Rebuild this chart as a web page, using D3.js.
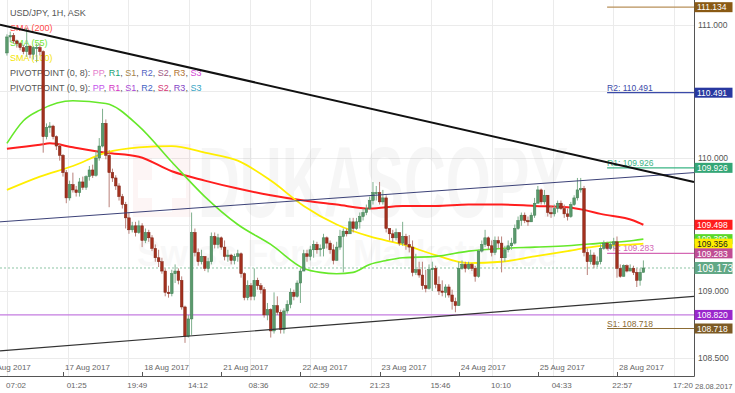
<!DOCTYPE html>
<html>
<head>
<meta charset="utf-8">
<script src="https://cdn.jsdelivr.net/npm/d3@7"></script>
<style>
  body { margin: 0; background: #fff; }
  #chart { width: 735px; height: 393px; }
  text { font-family: "Liberation Sans", Arial, sans-serif; }
</style>
</head>
<body>
<div id="chart"></div>
<script>
// hourly candles, index 0 = 16 Aug 2017 07:00 (trading hours, weekend skipped)
var firstOpen = 110.79;
var closes = [110.91,110.92,110.88,110.86,110.83,110.80,110.84,110.78,110.83,110.83,
  110.80,110.16,110.23,110.24,110.16,110.09,110.02,109.89,109.70,109.80,
  109.76,109.74,109.82,109.78,109.86,109.91,109.87,110.00,110.09,110.26,
  110.02,109.89,109.85,109.79,109.71,109.65,109.55,109.46,109.49,109.44,
  109.49,109.38,109.44,109.40,109.32,109.25,109.22,109.15,108.99,108.98,
  109.13,109.15,109.08,108.88,108.66,108.79,109.44,109.29,109.22,109.26,
  109.17,109.22,109.41,109.35,109.40,109.33,109.26,109.27,109.23,109.26,
  109.28,109.13,108.95,109.04,108.96,109.08,109.04,109.01,108.82,108.86,
  108.70,108.89,108.84,108.71,108.85,108.90,108.99,108.96,109.06,109.15,
  109.28,109.26,109.31,109.35,109.31,109.32,109.40,109.36,109.31,109.23,
  109.33,109.41,109.45,109.43,109.52,109.47,109.52,109.56,109.59,109.62,
  109.68,109.74,109.74,109.67,109.70,109.47,109.43,109.40,109.44,109.36,
  109.41,109.35,109.33,109.14,109.16,109.12,109.04,109.02,109.16,109.17,
  109.05,109.00,108.99,109.03,108.97,108.92,108.89,109.17,109.20,109.17,
  109.20,109.17,109.11,109.30,109.35,109.40,109.34,109.29,109.38,109.36,
  109.25,109.31,109.34,109.36,109.47,109.53,109.57,109.53,109.52,109.57,
  109.66,109.76,109.67,109.72,109.59,109.58,109.62,109.66,109.62,109.58,
  109.56,109.65,109.70,109.76,109.77,109.29,109.22,109.27,109.20,109.22,
  109.32,109.36,109.32,109.35,109.37,109.17,109.11,109.19,109.15,109.17,
  109.14,109.08,109.14,109.173];
var highs = [110.93,110.95,110.94,110.89,110.87,110.85,110.98,110.85,110.84,110.86,
  110.86,110.81,110.26,110.27,110.25,110.17,110.11,110.03,109.91,109.83,
  109.89,109.79,109.85,109.86,109.87,109.94,109.95,110.05,110.15,110.37,
  110.29,110.06,109.92,109.87,109.81,109.73,109.67,109.59,109.52,109.52,
  109.53,109.51,109.47,109.46,109.42,109.35,109.31,109.25,109.17,109.04,
  109.16,109.20,109.17,109.11,108.89,108.82,109.59,109.47,109.32,109.31,
  109.26,109.25,109.44,109.44,109.43,109.41,109.38,109.31,109.28,109.28,
  109.31,109.29,109.14,109.08,109.06,109.17,109.10,109.06,109.03,108.91,
  108.87,108.99,108.96,108.86,108.87,108.93,109.02,109.01,109.08,109.17,
  109.31,109.31,109.34,109.38,109.37,109.35,109.43,109.41,109.38,109.35,
  109.37,109.46,109.47,109.47,109.55,109.55,109.55,109.59,109.62,109.65,
  109.71,109.82,109.79,109.82,109.76,109.72,109.47,109.46,109.47,109.44,
  109.52,109.43,109.42,109.38,109.28,109.22,109.22,109.16,109.20,109.22,
  109.19,109.11,109.08,109.05,109.05,109.01,108.95,109.22,109.23,109.22,
  109.22,109.21,109.19,109.31,109.38,109.46,109.41,109.38,109.41,109.41,
  109.41,109.34,109.38,109.40,109.50,109.56,109.59,109.59,109.56,109.59,
  109.70,109.79,109.77,109.76,109.72,109.64,109.65,109.68,109.68,109.65,
  109.62,109.67,109.72,109.85,109.85,109.79,109.32,109.31,109.29,109.26,
  109.35,109.38,109.37,109.37,109.40,109.41,109.20,109.20,109.20,109.20,
  109.19,109.17,109.17,109.23];
var lows = [110.77,110.87,110.86,110.83,110.81,110.78,110.76,110.75,110.74,110.72,
  110.77,110.04,110.14,110.19,110.14,110.06,109.98,109.86,109.66,109.68,
  109.74,109.71,109.71,109.76,109.76,109.83,109.85,109.86,109.98,110.08,
  109.99,109.63,109.82,109.76,109.68,109.62,109.47,109.43,109.44,109.41,
  109.43,109.33,109.36,109.37,109.30,109.22,109.18,109.13,108.96,108.95,
  108.96,109.06,109.05,108.86,108.61,108.65,108.67,109.26,109.19,109.20,
  109.15,109.14,109.20,109.32,109.32,109.31,109.23,109.22,109.20,109.20,
  109.22,109.10,108.93,108.93,108.93,108.93,109.01,108.98,108.80,108.78,
  108.65,108.68,108.82,108.68,108.68,108.83,108.87,108.93,108.95,108.91,
  109.16,109.22,109.23,109.25,109.28,109.26,109.26,109.32,109.28,109.20,
  109.23,109.31,109.14,109.41,109.43,109.44,109.46,109.47,109.53,109.57,
  109.61,109.65,109.68,109.65,109.65,109.44,109.38,109.37,109.38,109.34,
  109.34,109.31,109.29,109.11,109.12,109.10,109.01,108.99,109.01,109.00,
  109.02,108.97,108.96,108.95,108.95,108.86,108.84,108.90,109.16,109.14,
  109.16,109.15,109.07,109.10,109.29,109.33,109.31,109.26,109.27,109.32,
  109.14,109.22,109.29,109.31,109.35,109.46,109.49,109.51,109.49,109.52,
  109.55,109.67,109.65,109.65,109.56,109.55,109.56,109.59,109.61,109.55,
  109.53,109.55,109.64,109.68,109.74,109.26,109.12,109.20,109.17,109.18,
  109.20,109.31,109.31,109.31,109.32,109.10,109.10,109.12,109.14,109.15,
  109.12,109.03,109.04,109.14];

// moving averages, read at some candle positions
var sma200Idx = [0, 10, 13, 20, 30, 40, 50, 60, 70, 80, 90, 100, 110, 120, 130, 140, 150, 160, 170, 175, 180, 190, 193];
var sma200Val = [110.07, 110.10, 110.11, 110.08, 110.04, 110.01, 109.90, 109.83, 109.77, 109.72, 109.68, 109.65, 109.62, 109.64, 109.64, 109.65, 109.65, 109.64, 109.63, 109.61, 109.58, 109.53, 109.498];
var sma55Idx = [0, 5, 10, 20, 30, 40, 50, 60, 70, 80, 90, 95, 100, 105, 110, 115, 120, 130, 140, 150, 160, 170, 180, 190, 193];
var sma55Val = [110.11, 110.28, 110.36, 110.43, 110.41, 110.24, 109.97, 109.71, 109.50, 109.35, 109.17, 109.14, 109.13, 109.14, 109.20, 109.23, 109.25, 109.26, 109.30, 109.32, 109.33, 109.34, 109.36, 109.38, 109.39];
var sma100Idx = [0, 10, 20, 30, 40, 50, 60, 70, 80, 90, 100, 110, 120, 130, 140, 150, 160, 170, 180, 190, 193];
var sma100Val = [109.76, 109.86, 109.94, 110.04, 110.08, 110.09, 110.04, 109.98, 109.83, 109.64, 109.50, 109.41, 109.35, 109.27, 109.21, 109.22, 109.26, 109.30, 109.34, 109.35, 109.356];

// trend lines [startIdx, startPrice, endIdx, endPrice]
var upperTrend = [-2.1, 111.003, 208.35, 109.82];
var channelTrend = [-2.1, 109.52, 208.35, 109.89];
var lowerTrend = [-2.1, 108.55, 208.35, 108.96];

// pivot levels
var pivotNames = ["R3", "R2", "R1", "PP", "S1"];
var pivotValues = [111.134, 110.491, 109.926, 109.283, 108.718];
var pivotColors = ["#b8905a", "#3a4aa8", "#3ab484", "#d468b4", "#8c6c34"];
var pivotStart = 182;

var purpleLevel = 108.820;
var lastPrice = 109.173;

// right side value boxes
var boxValues = [111.134, 110.491, 109.926, 109.498, 109.39, 109.356, 109.283, 109.173, 108.820, 108.718];
var boxColors = ["#8a5a14", "#2838a0", "#34a676", "#ff1c1c", "#5ad82a", "#ffee00", "#c04c94", "#62a886", "#9a26cc", "#7c5a24"];
var boxTextColors = ["#fff", "#fff", "#fff", "#fff", "#fff", "#222", "#fff", "#fff", "#fff", "#fff"];

var priceTicks = [108.5, 109.0, 109.5, 110.0, 110.5, 111.0];
var dateTickIdx = [-7, 17, 41, 65, 89, 113, 137, 161, 185];
var dateLabels = ["16 Aug 2017", "17 Aug 2017", "18 Aug 2017", "21 Aug 2017", "22 Aug 2017", "23 Aug 2017", "24 Aug 2017", "25 Aug 2017", "28 Aug 2017"];
var timeTickIdx = [0.03, 18.42, 36.8, 55.18, 73.57, 91.95, 110.33, 128.72, 147.1, 165.48, 183.87, 202.25];
var timeLabels = ["07:02", "01:25", "19:49", "14:12", "08:36", "02:59", "21:23", "15:46", "10:10", "04:33", "22:57", "17:20"];

var pivot8Names = ["PP", "R1", "S1", "R2", "S2", "R3", "S3"];
var pivot8Colors = ["#e47ccc", "#22a274", "#a4844a", "#5464c4", "#a05a84", "#b07434", "#d444d4"];
var pivot9Colors = ["#c454ec", "#d434c4", "#a848d4", "#4464c4", "#d43474", "#8444c4", "#34a4c4"];

function makeChart() {
  var width = 735, height = 393;
  var plotRight = 694, plotBottom = 376;

  var svg = d3.select("#chart").append("svg")
    .attr("width", width)
    .attr("height", height);

  svg.append("rect").attr("width", width).attr("height", height).attr("fill", "white");

  var x = d3.scaleLinear().domain([-2.1, 208.35]).range([0, plotRight]);
  var y = d3.scaleLinear().domain([108.5, 111]).range([357.5, 25]);

  var plot = svg.append("g");

  // grid
  plot.selectAll(".hgrid").data(priceTicks).enter().append("line")
    .attr("x1", 0).attr("x2", plotRight)
    .attr("y1", function(d) { return Math.round(y(d)) + 0.5; })
    .attr("y2", function(d) { return Math.round(y(d)) + 0.5; })
    .attr("stroke", "#ebebeb");
  plot.selectAll(".vgrid").data(timeTickIdx).enter().append("line")
    .attr("x1", function(d) { return Math.round(x(d)) + 0.5; })
    .attr("x2", function(d) { return Math.round(x(d)) + 0.5; })
    .attr("y1", 0).attr("y2", plotBottom)
    .attr("stroke", "#ebebeb");

  // watermark
  var wm = plot.append("g").attr("opacity", 0.04);
  wm.append("rect").attr("x", 133).attr("y", 144).attr("width", 58).attr("height", 73).attr("fill", "#e02020");
  wm.append("path").attr("d", "M152,158h20v22h14v18h-14v14h-20v-14h-14v-18h14z").attr("fill", "white");
  wm.append("text").attr("x", 198).attr("y", 217)
    .attr("font-size", 100).attr("font-weight", "bold")
    .attr("textLength", 370).attr("lengthAdjust", "spacingAndGlyphs")
    .attr("fill", "#333").text("DUKASCOPY");
  plot.append("text").attr("x", 137).attr("y", 266)
    .attr("font-size", 36).attr("font-weight", "bold")
    .attr("textLength", 420).attr("lengthAdjust", "spacingAndGlyphs")
    .attr("fill", "#000").attr("opacity", 0.025).text("Swiss Forex Marketplace");

  // legend (sits under candles)
  var legend = plot.append("g").attr("font-size", 9);
  legend.append("text").attr("x", 10).attr("y", 16).attr("fill", "#555").text("USD/JPY, 1H, ASK");
  legend.append("text").attr("x", 10).attr("y", 31).attr("fill", "#ff4a4a").text("SMA (200)");
  legend.append("text").attr("x", 10).attr("y", 46).attr("fill", "#6ee636").text("SMA (55)");
  legend.append("text").attr("x", 10).attr("y", 61).attr("fill", "#f4e400").text("SMA (100)");
  [[76, "(0, 8)", pivot8Colors], [91, "(0, 9)", pivot9Colors]].forEach(function(row) {
    var t = legend.append("text").attr("x", 10).attr("y", row[0]).attr("fill", "#555");
    t.append("tspan").text("PIVOTPOINT " + row[1] + ": ");
    pivot8Names.forEach(function(n, i) {
      t.append("tspan").attr("fill", row[2][i]).text(n);
      if (i < pivot8Names.length - 1) t.append("tspan").attr("fill", "#555").text(", ");
    });
  });

  // horizontal level lines
  plot.append("line").attr("x1", 0).attr("x2", plotRight)
    .attr("y1", y(purpleLevel)).attr("y2", y(purpleLevel))
    .attr("stroke", "#c47ce0").attr("stroke-width", 1.2);
  plot.append("line").attr("x1", 0).attr("x2", plotRight)
    .attr("y1", y(lastPrice)).attr("y2", y(lastPrice))
    .attr("stroke", "#8cc4a4").attr("stroke-dasharray", "2,2");

  pivotValues.forEach(function(v, i) {
    plot.append("line").attr("x1", x(pivotStart)).attr("x2", plotRight)
      .attr("y1", y(v)).attr("y2", y(v))
      .attr("stroke", pivotColors[i]).attr("stroke-width", 1.2);
    if (pivotNames[i] != "R3") {
      plot.append("text").attr("x", x(pivotStart)).attr("y", y(v) - 2)
        .attr("font-size", 8.5).attr("fill", pivotColors[i])
        .text(pivotNames[i] + ": " + v.toFixed(3));
    }
  });

  // moving averages
  var smaLine = d3.line()
    .x(function(d) { return x(d[0]); })
    .y(function(d) { return y(d[1]); })
    .curve(d3.curveMonotoneX);
  function drawSma(idx, vals, colour, w) {
    plot.append("path")
      .attr("d", smaLine(idx.map(function(k, i) { return [k, vals[i]]; })))
      .attr("fill", "none").attr("stroke", colour).attr("stroke-width", w);
  }
  drawSma(sma200Idx, sma200Val, "#ff1e1e", 2);
  drawSma(sma100Idx, sma100Val, "#ffee00", 1.8);
  drawSma(sma55Idx, sma55Val, "#66e82a", 1.6);

  // candles
  var candles = closes.map(function(c, i) {
    var o = i === 0 ? firstOpen : closes[i - 1];
    return { k: i, o: o, c: c, h: Math.max(highs[i], o, c), l: Math.min(lows[i], o, c) };
  });
  var cg = plot.append("g");
  cg.selectAll(".wick").data(candles).enter().append("line")
    .attr("x1", function(d) { return x(d.k); })
    .attr("x2", function(d) { return x(d.k); })
    .attr("y1", function(d) { return y(d.h); })
    .attr("y2", function(d) { return y(d.l); })
    .attr("stroke", function(d) { return d.c >= d.o ? "#7fb08e" : "#b9807a"; })
    .attr("stroke-width", 1);
  cg.selectAll(".body").data(candles).enter().append("rect")
    .attr("x", function(d) { return x(d.k) - 1.3; })
    .attr("width", 2.6)
    .attr("y", function(d) { return y(Math.max(d.o, d.c)); })
    .attr("height", function(d) { return Math.max(1, Math.abs(y(d.o) - y(d.c))); })
    .attr("fill", function(d) { return d.c >= d.o ? "#5a9a6c" : "#a3301e"; })
    .attr("stroke", function(d) { return d.c >= d.o ? "#3f7c52" : "#7e2414"; })
    .attr("stroke-width", 0.5);

  // trend lines
  function drawTrend(t, colour, w) {
    plot.append("line")
      .attr("x1", x(t[0])).attr("y1", y(t[1]))
      .attr("x2", x(t[2])).attr("y2", y(t[3]))
      .attr("stroke", colour).attr("stroke-width", w);
  }
  drawTrend(channelTrend, "#3c4278", 1);
  drawTrend(lowerTrend, "#333", 1.2);
  drawTrend(upperTrend, "#111", 2);

  // axes
  svg.append("line").attr("x1", plotRight + 0.5).attr("x2", plotRight + 0.5)
    .attr("y1", 0).attr("y2", plotBottom + 0.5).attr("stroke", "#555");
  svg.append("line").attr("x1", 0).attr("x2", plotRight + 0.5)
    .attr("y1", plotBottom + 0.5).attr("y2", plotBottom + 0.5).attr("stroke", "#555");

  svg.selectAll(".ptick").data(priceTicks).enter().append("text")
    .attr("x", plotRight + 4).attr("y", function(d) { return y(d) + 3; })
    .attr("font-size", 8.5).attr("fill", "#555")
    .text(function(d) { return d.toFixed(3); });

  svg.selectAll(".dtick").data(dateTickIdx).enter().append("line")
    .attr("x1", function(d) { return Math.round(x(d)) + 0.5; })
    .attr("x2", function(d) { return Math.round(x(d)) + 0.5; })
    .attr("y1", plotBottom - 4).attr("y2", plotBottom)
    .attr("stroke", "#555");
  svg.selectAll(".dlabel").data(dateTickIdx).enter().append("text")
    .attr("x", function(d) { return x(d) + 2; })
    .attr("y", plotBottom - 6)
    .attr("font-size", 8).attr("fill", "#666")
    .text(function(d, i) { return dateLabels[i]; });
  svg.selectAll(".tlabel").data(timeTickIdx).enter().append("text")
    .attr("x", function(d) { return x(d) - 1; })
    .attr("y", 388)
    .attr("font-size", 8).attr("fill", "#666")
    .text(function(d, i) { return timeLabels[i]; });
  svg.append("text").attr("x", plotRight + 1).attr("y", 389)
    .attr("font-size", 7.5).attr("fill", "#666").text("28.08.2017");

  // value boxes
  boxValues.forEach(function(v, i) {
    var big = v === lastPrice;
    var h = big ? 12 : 10;
    svg.append("rect").attr("x", plotRight + 0.5).attr("y", y(v) - h / 2)
      .attr("width", 38).attr("height", h).attr("fill", boxColors[i]);
    svg.append("text").attr("x", plotRight + 3).attr("y", y(v) + (big ? 4 : 3.2))
      .attr("font-size", big ? 10 : 8.5).attr("fill", boxTextColors[i])
      .text(v.toFixed(3));
  });
}

makeChart();
</script>
</body>
</html>
